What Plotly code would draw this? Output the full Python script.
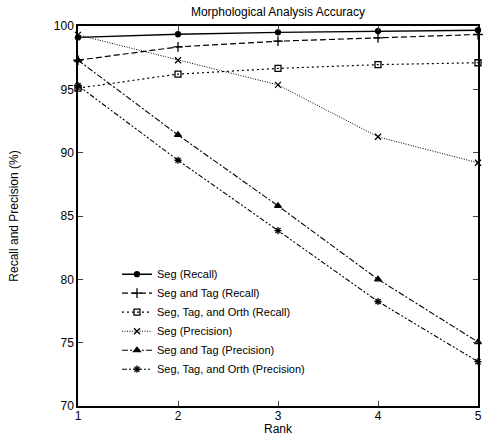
import plotly.graph_objects as go

rank = [1, 2, 3, 4, 5]
seg_recall = [99.1, 99.35, 99.5, 99.6, 99.67]
seg_tag_recall = [97.3, 98.35, 98.8, 99.07, 99.33]
seg_tag_orth_recall = [95.1, 96.2, 96.65, 96.95, 97.1]
seg_precision = [99.3, 97.3, 95.35, 91.25, 89.2]
seg_tag_precision = [97.3, 91.4, 85.8, 80.0, 75.05]
seg_tag_orth_precision = [95.3, 89.4, 83.85, 78.25, 73.5]

series = [
    ("Seg (Recall)", seg_recall, "solid", "circle", 5, 1.4),
    ("Seg and Tag (Recall)", seg_tag_recall, "6px,3px", "cross-thin-open", 7, 1.2),
    ("Seg, Tag, and Orth (Recall)", seg_tag_orth_recall, "2px,3px", "square-open", 6, 1.2),
    ("Seg (Precision)", seg_precision, "1px,1.5px", "x-thin-open", 6, 1.0),
    ("Seg and Tag (Precision)", seg_tag_precision, "6px,2px,2px,2px", "triangle-up", 6, 1.1),
    ("Seg, Tag, and Orth (Precision)", seg_tag_orth_precision, "5px,2px,2px,2px,2px,2px", "asterisk-open", 6, 1.1),
]

fig = go.Figure()
for name, vals, dash, sym, size, w in series:
    fig.add_trace(go.Scatter(
        x=rank, y=vals, name=name, mode="lines+markers",
        line=dict(color="black", width=w, dash=dash),
        marker=dict(symbol=sym, size=size, color="black",
                    line=dict(color="black", width=1.3)),
        cliponaxis=False,
    ))

font = dict(family="Liberation Sans, Arial, sans-serif", color="black", size=12)
fig.update_layout(
    width=485, height=434,
    margin=dict(l=78, r=7, t=26, b=28),
    paper_bgcolor="white", plot_bgcolor="white",
    font=font,
    title=dict(text="Morphological Analysis Accuracy", x=(78 + 200) / 485, xanchor="center",
               y=1 - 12 / 434, yanchor="middle", font=dict(size=12)),
    showlegend=True,
    legend=dict(x=0.58, y=0.385, xanchor="right", yanchor="top",
                bgcolor="rgba(0,0,0,0)", font=dict(size=11),
                tracegroupgap=0, itemwidth=30),
    xaxis=dict(range=[1, 5], tickvals=[1, 2, 3, 4, 5], ticks="inside", ticklen=5,
               showline=True, linecolor="black", linewidth=1.5, mirror="ticks",
               showgrid=False, zeroline=False, automargin=False,
               ticklabelstandoff=-2),
    yaxis=dict(range=[70, 100], tickvals=[70, 75, 80, 85, 90, 95, 100], ticks="inside", ticklen=5,
               showline=True, linecolor="black", linewidth=1.5, mirror="ticks",
               showgrid=False, zeroline=False, automargin=False,
               title=dict(text="Recall and Precision (%)", standoff=33, font=dict(size=12))),
    annotations=[dict(text="Rank", xref="paper", yref="paper", x=0.5, y=-23 / 380,
                      xanchor="center", yanchor="middle", showarrow=False,
                      font=dict(size=12))],
)

fig.write_html("out.html", config={"displayModeBar": False},
               post_script="document.body.style.margin='0';document.body.style.overflow='hidden';")
